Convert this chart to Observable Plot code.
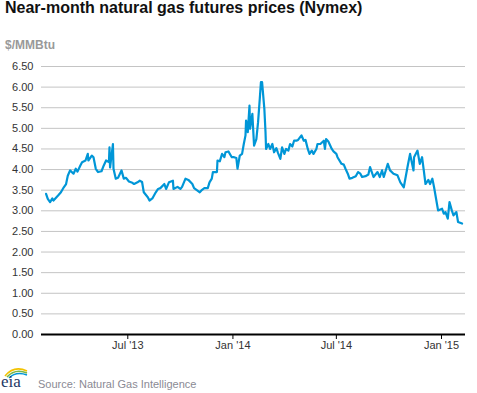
<!DOCTYPE html>
<html>
<head>
<meta charset="utf-8">
<script src="https://cdn.jsdelivr.net/npm/d3@7"></script>
<script src="https://cdn.jsdelivr.net/npm/@observablehq/plot@0.6"></script>
<style>
  html, body { margin: 0; padding: 0; background: #fff; }
  body { width: 477px; height: 393px; position: relative; overflow: hidden; font-family: "Liberation Sans", Arial, sans-serif; }
  #title { position: absolute; left: 5px; top: 0px; font-size: 16px; line-height: 16px; font-weight: bold; color: #111; white-space: nowrap; }
  #unit { position: absolute; left: 5px; top: 39px; font-size: 12px; line-height: 12px; font-weight: bold; color: #999; }
  #chart { position: absolute; left: 0; top: 55px; }
  #source { position: absolute; left: 38px; top: 379px; font-size: 11px; line-height: 11px; color: #8a8a94; white-space: nowrap; }
  #logo { position: absolute; left: 0; top: 362px; }
</style>
</head>
<body>
<div id="title">Near-month natural gas futures prices (Nymex)</div>
<div id="unit">$/MMBtu</div>
<div id="chart"></div>
<svg id="logo" width="34" height="30" viewBox="0 0 34 30">
  <path d="M5 14 Q14 3 27 9" fill="none" stroke="#f2c200" stroke-width="1.6"/>
  <path d="M7 15 Q15 6 27 11" fill="none" stroke="#7ab648" stroke-width="1.6"/>
  <path d="M9 16 Q16 9 27 13" fill="none" stroke="#0096d7" stroke-width="1.6"/>
  <text x="1" y="25" font-family="Liberation Serif, DejaVu Serif, serif" font-size="17" fill="#1d3766">eia</text>
</svg>
<div id="source">Source: Natural Gas Intelligence</div>
<script>
// Near-month Nymex natural gas futures, $/MMBtu
const dates = [
  "2013-02-08","2013-02-11","2013-02-15","2013-02-19","2013-02-21",
  "2013-03-01","2013-03-06","2013-03-11","2013-03-15","2013-03-18","2013-03-22","2013-03-28",
  "2013-04-01","2013-04-04","2013-04-09","2013-04-12","2013-04-18","2013-04-22","2013-04-23","2013-04-29",
  "2013-05-02","2013-05-06","2013-05-10","2013-05-16","2013-05-20","2013-05-24","2013-05-29","2013-05-30","2013-05-31",
  "2013-06-05","2013-06-06","2013-06-10","2013-06-14","2013-06-20","2013-06-24","2013-06-28",
  "2013-07-03","2013-07-09","2013-07-12","2013-07-18","2013-07-22","2013-07-26","2013-07-29",
  "2013-08-05","2013-08-08","2013-08-13","2013-08-19","2013-08-23","2013-08-27",
  "2013-09-03","2013-09-06","2013-09-11","2013-09-18","2013-09-19","2013-09-26",
  "2013-10-01","2013-10-04","2013-10-10","2013-10-15","2013-10-22","2013-10-25","2013-10-31",
  "2013-11-04","2013-11-08","2013-11-12","2013-11-18","2013-11-21","2013-11-25","2013-11-27",
  "2013-12-04","2013-12-05","2013-12-09","2013-12-13","2013-12-17","2013-12-19","2013-12-24","2013-12-30",
  "2014-01-03","2014-01-07","2014-01-09","2014-01-13","2014-01-17","2014-01-20","2014-01-23","2014-01-24","2014-01-27","2014-01-30","2014-01-31",
  "2014-02-04","2014-02-06","2014-02-07","2014-02-11","2014-02-14","2014-02-17","2014-02-19","2014-02-21","2014-02-25","2014-02-27","2014-02-28",
  "2014-03-04","2014-03-07","2014-03-11","2014-03-14","2014-03-18","2014-03-21","2014-03-25","2014-03-28",
  "2014-04-01","2014-04-04","2014-04-08","2014-04-11","2014-04-15","2014-04-18","2014-04-22","2014-04-25",
  "2014-05-01","2014-05-05","2014-05-08","2014-05-12","2014-05-15","2014-05-19","2014-05-22","2014-05-27","2014-05-29",
  "2014-06-03","2014-06-09","2014-06-11","2014-06-13","2014-06-17","2014-06-23","2014-06-26",
  "2014-07-01","2014-07-03","2014-07-10","2014-07-14","2014-07-17","2014-07-21","2014-07-24","2014-07-29",
  "2014-08-04","2014-08-08","2014-08-12","2014-08-15","2014-08-21","2014-08-26","2014-08-29",
  "2014-09-04","2014-09-11","2014-09-15","2014-09-19","2014-09-22","2014-09-29",
  "2014-10-03","2014-10-09","2014-10-16","2014-10-21","2014-10-27",
  "2014-11-03","2014-11-07","2014-11-13","2014-11-14","2014-11-20","2014-11-24","2014-11-28",
  "2014-12-01","2014-12-04","2014-12-09","2014-12-12","2014-12-16","2014-12-19","2014-12-24","2014-12-26",
  "2015-01-02","2015-01-05","2015-01-08","2015-01-12","2015-01-15","2015-01-19","2015-01-22","2015-01-27","2015-01-30",
  "2015-02-06"
];
const prices = [
  3.41,3.29,3.21,3.30,3.25,
  3.37,3.45,3.57,3.65,3.85,3.98,3.90,
  4.02,3.95,4.10,4.18,4.22,4.38,4.22,4.34,
  4.30,4.02,3.94,3.96,4.10,4.22,4.18,4.54,4.05,
  4.62,4.02,3.78,3.80,3.98,3.78,3.80,
  3.71,3.68,3.65,3.69,3.73,3.70,3.45,
  3.33,3.25,3.30,3.45,3.53,3.55,
  3.65,3.53,3.69,3.73,3.53,3.58,
  3.53,3.58,3.78,3.75,3.65,3.55,3.49,
  3.45,3.51,3.55,3.55,3.69,3.78,3.94,
  3.94,4.22,4.20,4.38,4.30,4.42,4.44,4.30,
  4.30,4.28,4.02,4.34,4.38,4.62,4.83,5.19,4.91,5.55,4.99,
  5.35,4.83,4.58,4.74,5.15,5.72,6.12,6.12,5.47,4.91,4.50,
  4.62,4.50,4.62,4.42,4.52,4.40,4.26,4.54,
  4.38,4.50,4.46,4.62,4.56,4.70,4.70,4.72,
  4.83,4.70,4.72,4.50,4.38,4.46,4.38,4.50,4.62,
  4.62,4.70,4.50,4.74,4.68,4.50,4.44,
  4.38,4.30,4.14,4.12,4.02,3.90,3.78,3.80,
  3.84,3.94,3.90,3.82,3.84,3.88,4.06,
  3.82,3.94,3.82,3.98,3.82,4.14,
  3.98,3.90,3.86,3.69,3.57,
  4.10,4.38,3.98,4.30,4.46,4.14,4.30,
  3.98,3.65,3.75,3.65,3.78,3.57,3.17,3.01,
  3.05,2.93,2.97,2.81,3.21,3.01,2.89,2.97,2.73,
  2.69
];
const yTicks = [0, 0.5, 1, 1.5, 2, 2.5, 3, 3.5, 4, 4.5, 5, 5.5, 6, 6.5];
const xTickDates = ["2013-07-01", "2014-01-01", "2014-07-01", "2015-01-01"];
const xTickLabels = ["Jul '13", "Jan '14", "Jul '14", "Jan '15"];
const xDomain = ["2013-01-31", "2015-02-12"];

const data = dates.map((d, i) => ({date: new Date(d), price: prices[i]}));
const xTicks = xTickDates.map(d => new Date(d));

const chart = Plot.plot({
  width: 477,
  height: 300,
  marginTop: 11,
  marginBottom: 21,
  marginLeft: 41,
  marginRight: 12,
  style: {fontFamily: "'Liberation Sans', Arial, sans-serif", fontSize: "11px", background: "transparent", overflow: "visible"},
  x: {type: "utc", domain: xDomain.map(d => new Date(d))},
  y: {domain: [0, 6.5]},
  marks: [
    Plot.gridY(yTicks.filter(t => t > 0), {stroke: "#c4c4c4", strokeOpacity: 1, strokeWidth: 1}),
    Plot.axisY(yTicks, {tickSize: 0, tickPadding: 8, tickFormat: d => d.toFixed(2), fill: "#333", label: null, fontSize: 11}),
    Plot.line(data, {x: "date", y: "price", stroke: "#0096d7", strokeWidth: 2.2, curve: "linear"}),
    Plot.ruleY([0], {stroke: "#000", strokeWidth: 2}),
    Plot.axisX(xTicks, {tickSize: 5, tickPadding: 2, tickFormat: (d, i) => xTickLabels[i], stroke: "#000", fill: "#333", label: null, fontSize: 11})
  ]
});
document.getElementById("chart").appendChild(chart);
</script>
</body>
</html>
